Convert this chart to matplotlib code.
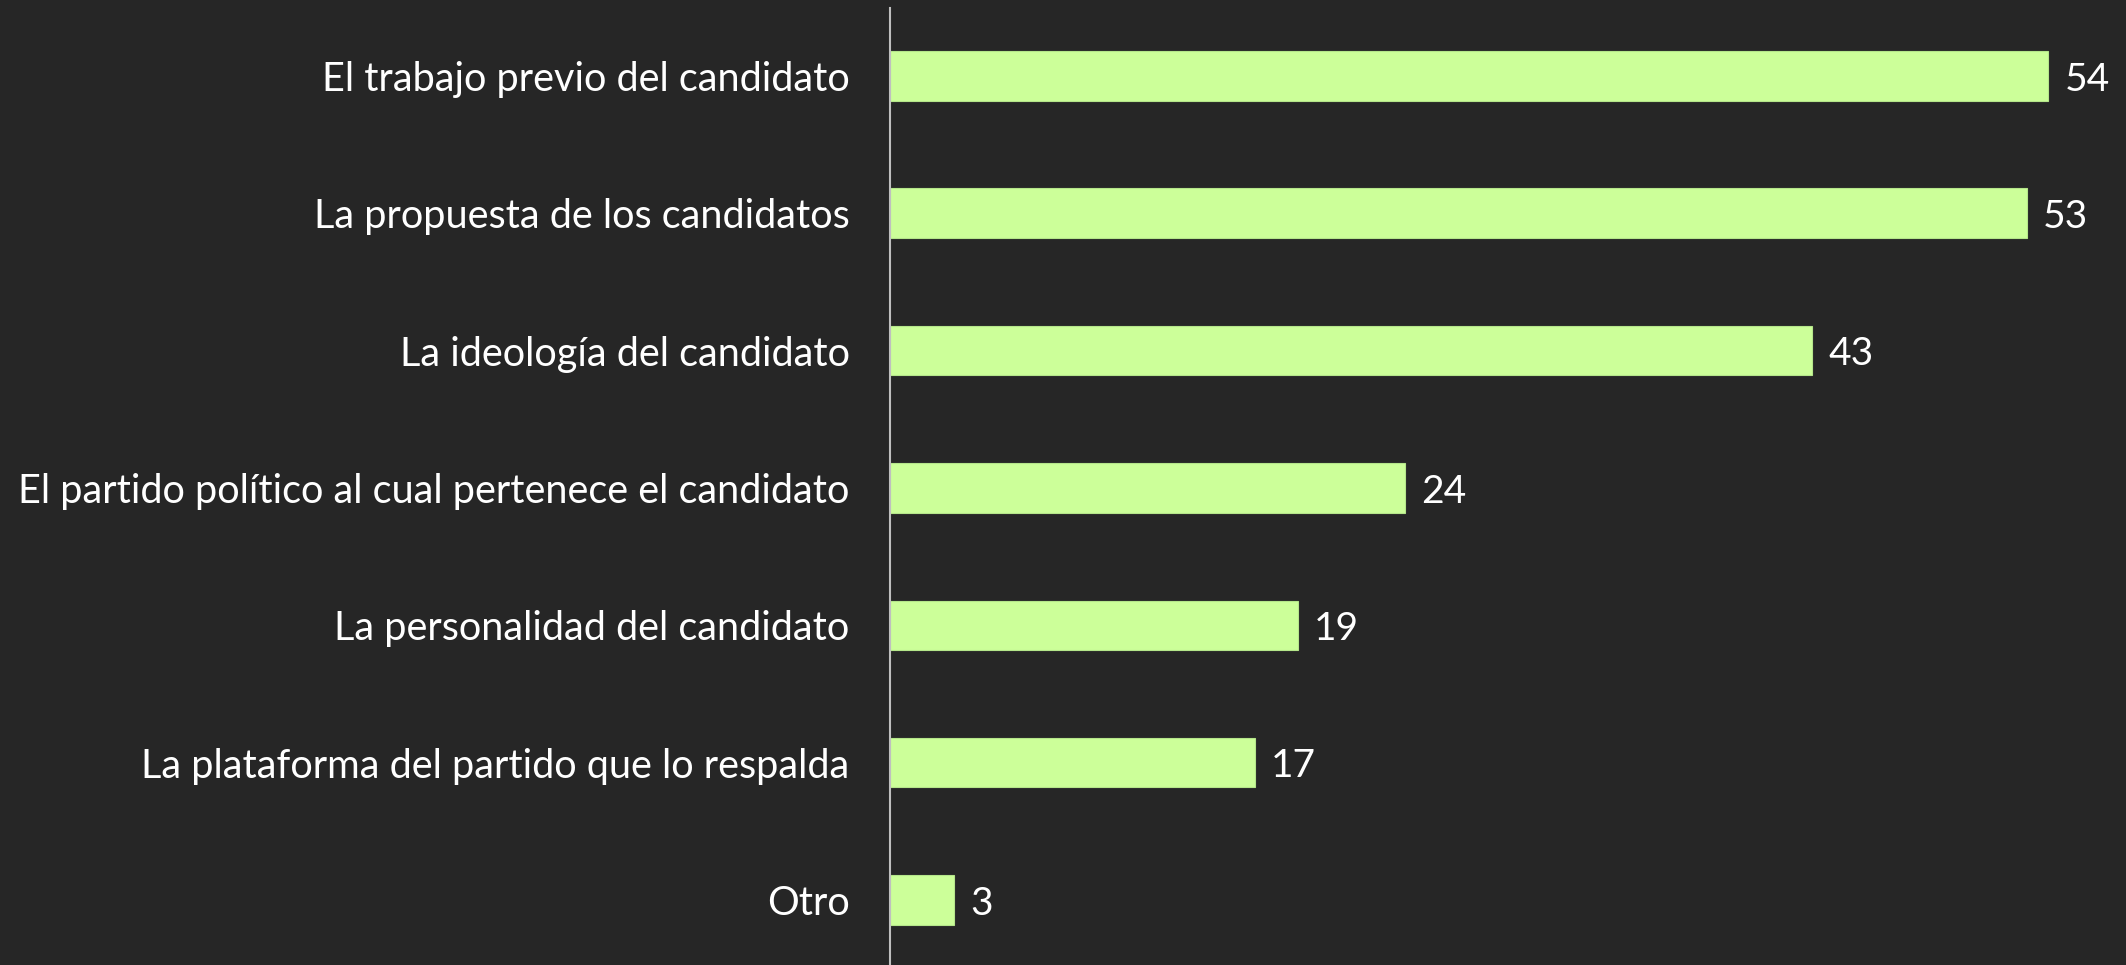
import matplotlib
matplotlib.use("Agg")
import matplotlib.pyplot as plt

categories = [
    "El trabajo previo del candidato",
    "La propuesta de los candidatos",
    "La ideología del candidato",
    "El partido político al cual pertenece el candidato",
    "La personalidad del candidato",
    "La plataforma del partido que lo respalda",
    "Otro",
]
values = [54, 53, 43, 24, 19, 17, 3]

bg = "#262626"
bar_color = "#CCFF99"

plt.rcParams["font.family"] = ["Lato", "DejaVu Sans"]

fig = plt.figure(figsize=(21.26, 9.652), dpi=100, facecolor=bg)
ax = fig.add_axes([890 / 2126, 0, 1 - 890 / 2126, 957 / 965])
ax.set_facecolor(bg)

ypos = list(range(len(categories)))
ax.barh(ypos, values, height=0.36, color=bar_color, edgecolor="#B5E68A", linewidth=0.8)

for y, v in zip(ypos, values):
    ax.text(v + 0.75, y, str(v), va="center_baseline", ha="left", color="white", fontsize=28)

ax.set_yticks(ypos)
ax.set_yticklabels(categories, color="white", fontsize=28.5, va="center_baseline")
ax.tick_params(axis="y", length=0, pad=29)
ax.set_xticks([])
ax.set_xlim(0, (2126 - 890) / 21.45)
ax.set_ylim(6.473, -0.495)

for s in ["top", "right", "bottom"]:
    ax.spines[s].set_visible(False)
ax.spines["left"].set_color("#BFBFBF")
ax.spines["left"].set_linewidth(1.5)

fig.savefig("out.png", dpi=100, facecolor=bg)
